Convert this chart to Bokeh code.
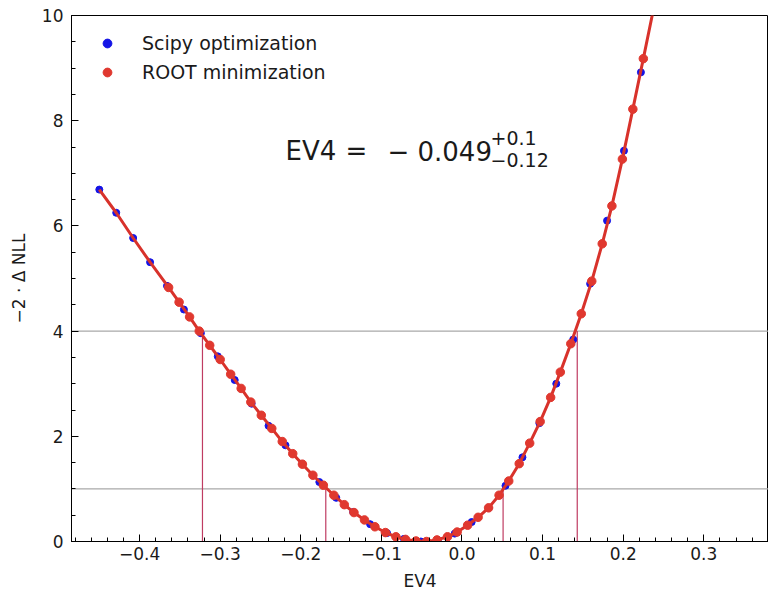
from bokeh.plotting import figure
from bokeh.models import (Span, ColumnDataSource, Label, Legend, LegendItem,
                          FixedTicker, Range1d)
from bokeh.embed import file_html
from bokeh.resources import INLINE
import numpy as np

# ---- data ----
scipy_x = [-0.450, -0.429, -0.408, -0.387, -0.366, -0.345, -0.324, -0.303, -0.282,
           -0.261, -0.240, -0.219, -0.198, -0.177, -0.156, -0.135, -0.114, -0.093,
           -0.072, -0.051, -0.030, -0.009, 0.012, 0.033, 0.054, 0.075, 0.096,
           0.117, 0.138, 0.159, 0.180, 0.201, 0.222]
scipy_y = [6.69, 6.25, 5.77, 5.31, 4.86, 4.41, 3.96, 3.52, 3.07,
           2.62, 2.20, 1.83, 1.47, 1.13, 0.83, 0.56, 0.33, 0.16,
           0.05, 0.00, 0.03, 0.15, 0.37, 0.64, 1.06, 1.60, 2.25,
           3.00, 3.84, 4.90, 6.10, 7.43, 8.92]

root_x = [-0.364, -0.351, -0.338, -0.326, -0.313, -0.300, -0.287, -0.274, -0.262,
          -0.249, -0.236, -0.223, -0.210, -0.198, -0.185, -0.172, -0.159, -0.146,
          -0.134, -0.121, -0.108, -0.095, -0.082, -0.070, -0.057, -0.044, -0.031,
          -0.018, -0.006, 0.007, 0.020, 0.033, 0.046, 0.058, 0.071, 0.084,
          0.097, 0.110, 0.122, 0.135, 0.148, 0.161, 0.174, 0.186, 0.199,
          0.212, 0.225]
root_y = [4.83, 4.55, 4.27, 4.00, 3.73, 3.46, 3.18, 2.91, 2.65,
          2.40, 2.15, 1.90, 1.67, 1.47, 1.26, 1.07, 0.88, 0.70,
          0.55, 0.41, 0.28, 0.17, 0.09, 0.04, 0.01, 0.00, 0.03,
          0.09, 0.18, 0.31, 0.46, 0.64, 0.88, 1.15, 1.48, 1.87,
          2.28, 2.74, 3.22, 3.76, 4.33, 4.95, 5.66, 6.38, 7.27,
          8.22, 9.18]

curve_end_x = [0.240]
curve_end_y = [10.30]

best_fit = -0.049
err_up = 0.1
err_down = 0.12
two_sigma_lo = -0.322
two_sigma_hi = 0.143
levels = [1.0, 4.0]

x_ticks = [-0.4, -0.3, -0.2, -0.1, 0.0, 0.1, 0.2, 0.3]
x_tick_labels = ["\u22120.4", "\u22120.3", "\u22120.2", "\u22120.1", "0.0", "0.1", "0.2", "0.3"]
y_ticks = [0, 2, 4, 6, 8, 10]

FONT = "DejaVu Sans"
TXT = "#1a1a1a"

p = figure(width=768, height=594, output_backend="svg", toolbar_location=None,
           x_range=Range1d(-0.4845, 0.3803), y_range=Range1d(0, 10),
           min_border_left=71, min_border_top=15, min_border_right=0,
           min_border_bottom=53)
p.grid.visible = False
p.outline_line_color = "black"
p.outline_line_width = 1
p.background_fill_color = "white"
p.border_fill_color = "white"

# axes
x_minor = [round(v, 3) for v in np.arange(-0.48, 0.38, 0.02)]
y_minor = [round(v, 2) for v in np.arange(0, 10.01, 0.5)]
p.xaxis.ticker = FixedTicker(ticks=x_ticks, minor_ticks=x_minor)
p.yaxis.ticker = FixedTicker(ticks=y_ticks, minor_ticks=y_minor)
p.xaxis.major_label_overrides = {t: l for t, l in zip(x_ticks, x_tick_labels)}
for ax in (p.xaxis[0], p.yaxis[0]):
    ax.major_tick_in = 7
    ax.major_tick_out = 0
    ax.minor_tick_in = 4
    ax.minor_tick_out = 0
    ax.axis_line_color = "black"
    ax.major_tick_line_color = "black"
    ax.minor_tick_line_color = "black"
    ax.major_label_text_font = FONT
    ax.major_label_text_font_size = "17px"
    ax.major_label_text_color = TXT
    ax.axis_label_text_font = FONT
    ax.axis_label_text_font_size = "17px"
    ax.axis_label_text_font_style = "normal"
    ax.axis_label_text_color = TXT
p.xaxis.axis_label = "EV4"
p.yaxis.axis_label = "\u22122 \u00b7 \u0394 NLL"
p.xaxis.major_label_standoff = 5
p.xaxis.axis_label_standoff = 8
p.yaxis.major_label_standoff = 8
p.yaxis.axis_label_standoff = 10

# reference levels
for lvl in levels:
    p.add_layout(Span(location=lvl, dimension="width", line_color="#a9a9a9",
                      line_width=1.3, level="underlay"))

# interval markers
seg = ColumnDataSource(dict(
    x=[two_sigma_lo, best_fit - err_down, best_fit + err_up, two_sigma_hi],
    y0=[0, 0, 0, 0],
    y1=[levels[1], levels[0], levels[0], levels[1]]))
p.segment(x0="x", y0="y0", x1="x", y1="y1", source=seg,
          line_color="#bf3c62", line_width=1.2)

blue = p.scatter(scipy_x, scipy_y, size=7, color="#1414e6")
line_x = scipy_x[:4] + root_x + curve_end_x
line_y = scipy_y[:4] + root_y + curve_end_y
p.line(line_x, line_y, line_color="#d8322b", line_width=3)
red = p.scatter(root_x, root_y, size=8.5, color="#e0382f")

legend = Legend(items=[LegendItem(label="Scipy optimization", renderers=[blue]),
                       LegendItem(label="ROOT minimization", renderers=[red])],
                location="top_left", border_line_color=None,
                background_fill_alpha=0, margin=17, padding=0,
                glyph_width=38, glyph_height=22, label_height=22,
                spacing=7, label_standoff=16,
                label_text_font=FONT, label_text_font_size="19px",
                label_text_color=TXT)
p.add_layout(legend)

# annotation  EV4 = -0.049 (+0.1 / -0.12)
def px2x(px):
    return (px - 461.5) / 806.0

def py2y(py):
    return (541.0 - py) / 52.6

main_base = py2y(150.7)
for txt, px in [("EV4", 285), ("=", 345), ("\u2212", 387), ("%.3f" % abs(best_fit), 417)]:
    p.add_layout(Label(x=px2x(px), y=main_base, text=txt, text_font=FONT,
                       text_font_size="26px", text_color=TXT,
                       text_baseline="alphabetic", text_align="left"))
p.add_layout(Label(x=px2x(490), y=py2y(137.5), text="+%g" % err_up, text_font=FONT,
                   text_font_size="19px", text_color=TXT,
                   text_baseline="alphabetic", text_align="left"))
p.add_layout(Label(x=px2x(490), y=py2y(159.5), text="\u2212%g" % err_down, text_font=FONT,
                   text_font_size="19px", text_color=TXT,
                   text_baseline="alphabetic", text_align="left"))

open("out.html", "w").write(file_html(p, INLINE))
